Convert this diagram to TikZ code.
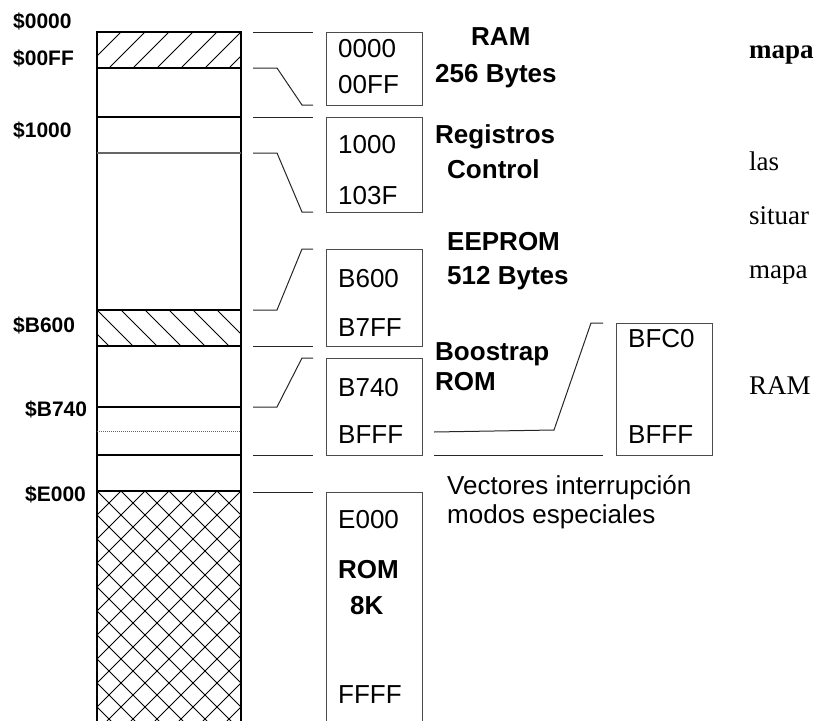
\documentclass[tikz,border=0pt]{standalone}
\usepackage{fontspec}
\setmainfont{Liberation Serif}
\setsansfont{Liberation Sans}
\usetikzlibrary{positioning}

\tikzset{
    linea/.style={line width=1pt, black!85},
    caja/.style={draw=black!70, line width=1pt, minimum width=96pt, inner sep=0pt},
    dir/.style={font=\sffamily\fontsize{26}{30}\selectfont, anchor=base west, inner sep=0pt},
    zona/.style={font=\sffamily\bfseries\fontsize{26}{30}\selectfont, anchor=base west, inner sep=0pt},
    etiq/.style={font=\sffamily\bfseries\fontsize{21}{25}\selectfont, anchor=base west, inner sep=0pt},
    texto/.style={font=\rmfamily\fontsize{27}{32}\selectfont, anchor=base west, inner sep=0pt},
    trama/.style={line width=0.8pt, black}
}

\begin{document}
\begin{tikzpicture}[x=1pt, y=-1pt]
    \useasboundingbox (0,0) rectangle (827,720);

    % tramas de la columna
    \begin{scope}
        \clip (97,32) rectangle (241,68);
        \foreach \x in {61,85,...,229} \draw[trama] (\x,68) -- ++(36,-36);
    \end{scope}
    \begin{scope}
        \clip (97,310) rectangle (241,346);
        \foreach \x in {73,97,...,241} \draw[trama] (\x,310) -- ++(36,36);
    \end{scope}
    \begin{scope}
        \clip (97,491) rectangle (241,730);
        \foreach \x in {-143,-119,...,241} \draw[trama] (\x,491) -- ++(240,240);
        \foreach \x in {97,121,...,481} \draw[trama] (\x,491) -- ++(-240,240);
    \end{scope}

    % columna de memoria
    \draw[line width=1.2pt] (97,730) -- (97,32) -- (241,32) -- (241,730);
    \foreach \y in {68,117,310,346,407,455,491}
        \draw[line width=1.1pt] (97,\y) -- (241,\y);
    \draw[line width=1.1pt, black!60] (97,153) -- (241,153);
    \draw[line width=0.9pt, black!60, dash pattern=on 1.2pt off 0.8pt] (97,431) -- (241,431);

    % direcciones de la columna
    \node[etiq] (d0000) at (13,28) {\$0000};
    \node[etiq] (d00FF) at (13,65) {\$00FF};
    \node[etiq] (d1000) at (13,137) {\$1000};
    \node[etiq] (dB600) at (13,332) {\$B600};
    \node[etiq] (dB740) at (25,416) {\$B740};
    \node[etiq] (dE000) at (25,501) {\$E000};

    % cajas
    \node[caja, minimum height=73pt] (ram) at (374,68.5) {};
    \node[caja, minimum height=95pt] (reg) at (374,164.5) {};
    \node[caja, minimum height=97pt] (eep) at (374,297.5) {};
    \node[caja, minimum height=97pt] (boot) at (374,406.5) {};
    \node[caja, minimum height=132pt] (vect) at (664,389) {};
    \node[caja, minimum height=250pt] (rom) at (374,617) {};

    % extremos de las marcas
    \coordinate (a1) at (253,32);   \coordinate (b1) at (313,32);
    \coordinate (a2) at (253,68);   \coordinate (b2) at (313,105);
    \coordinate (a3) at (253,117);  \coordinate (b3) at (313,117);
    \coordinate (a4) at (253,153);  \coordinate (b4) at (313,212);
    \coordinate (a5) at (253,310);  \coordinate (b5) at (313,249);
    \coordinate (a6) at (253,346);  \coordinate (b6) at (313,346);
    \coordinate (a7) at (253,407);  \coordinate (b7) at (313,358);
    \coordinate (a8) at (253,455);  \coordinate (b8) at (313,455);
    \coordinate (a9) at (253,492);  \coordinate (b9) at (313,492);
    \coordinate (c1) at (434,432);  \coordinate (e1) at (603,323);
    \coordinate (c2) at (434,455);  \coordinate (e2) at (603,455);

    % marcas
    \draw[linea] (a1) -- (b1);
    \draw[linea] (a2) -- ++(24,0) -- ++(25,37) -- (b2);
    \draw[linea] (a3) -- (b3);
    \draw[linea] (a4) -- ++(24,0) -- ++(25,59) -- (b4);
    \draw[linea] (a5) -- ++(24,0) -- ++(25,-61) -- (b5);
    \draw[linea] (a6) -- (b6);
    \draw[linea] (a7) -- ++(24,0) -- ++(25,-49) -- (b7);
    \draw[linea] (a8) -- (b8);
    \draw[linea] (a9) -- (b9);
    \draw[linea] (c1) -- (554,430) -- (591,323) -- (e1);
    \draw[linea] (c2) -- (e2);

    % direcciones de las cajas
    \node[dir] (r0) at (338,57) {0000};
    \node[dir] (r1) at (338,93) {00FF};
    \node[dir] (g0) at (338,153) {1000};
    \node[dir] (g1) at (338,204) {103F};
    \node[dir] (e0) at (338,287) {B600};
    \node[dir] (e1t) at (338,336) {B7FF};
    \node[dir] (b0) at (338,396) {B740};
    \node[dir] (b1t) at (338,443) {BFFF};
    \node[dir] (v0) at (628,347) {BFC0};
    \node[dir] (v1) at (628,443) {BFFF};
    \node[dir] (o0) at (338,528) {E000};
    \node[dir] (o1) at (338,703) {FFFF};

    % nombres de las zonas
    \node[zona] (nram) at (471,45) {RAM};
    \node[zona] (nram2) at (435,82) {256 Bytes};
    \node[zona] (nreg) at (435,143) {Registros};
    \node[zona] (nreg2) at (447,178) {Control};
    \node[zona] (neep) at (447,250) {EEPROM};
    \node[zona] (neep2) at (447,284) {512 Bytes};
    \node[zona] (nboot) at (435,360) {Boostrap};
    \node[zona] (nboot2) at (435,390) {ROM};
    \node[zona] (nrom) at (338,578) {ROM};
    \node[zona] (nrom2) at (350,614) {8K};
    \node[dir] (nvec) at (447,494) {Vectores interrupción};
    \node[dir] (nvec2) at (447,523) {modos especiales};

    % texto de la derecha
    \node[texto, font=\rmfamily\bfseries\fontsize{27}{32}\selectfont] (t1) at (749,58) {mapa};
    \node[texto] (t2) at (749,170) {las};
    \node[texto] (t3) at (749,224) {situar};
    \node[texto] (t4) at (749,278) {mapa};
    \node[texto] (t5) at (749,394) {RAM};
\end{tikzpicture}
\end{document}
